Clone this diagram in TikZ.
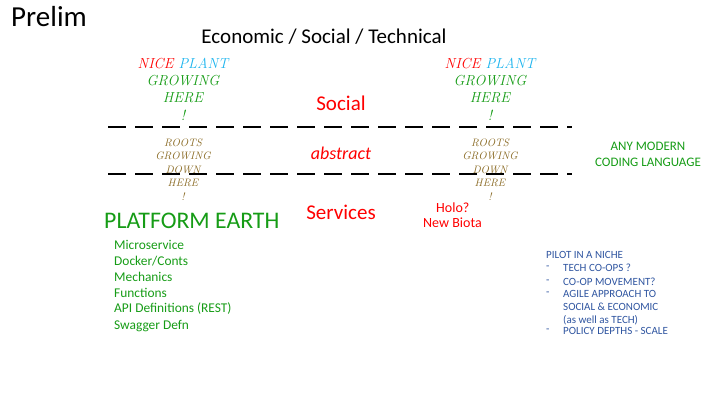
\documentclass[tikz,border=0pt]{standalone}
\usepackage{fontspec}
\setsansfont{Carlito}
\usetikzlibrary{positioning}
\definecolor{tgreen}{HTML}{169C16}
\definecolor{tred}{HTML}{FF0000}
\definecolor{tcyan}{HTML}{1CB4EE}
\definecolor{tbrown}{HTML}{8C6D28}
\definecolor{tblue}{HTML}{2F55A0}
\begin{document}
\begin{tikzpicture}[x=1pt,y=-1pt,
  every node/.style={inner sep=0pt,font=\sffamily},
  scr/.style={font=\rmfamily\itshape\fontsize{14.5}{16}\selectfont},
  root/.style={font=\rmfamily\itshape\fontsize{10.8}{12}\selectfont,text=tbrown},
  lay/.style={text=tred,font=\sffamily\fontsize{21}{24}\selectfont},
  item/.style={anchor=west,text=tgreen,font=\sffamily\fontsize{13.4}{16}\selectfont},
  pil/.style={anchor=west,text=tblue,font=\sffamily\fontsize{11}{13}\selectfont},
  dline/.style={line width=2pt,dash pattern=on 18pt off 9pt}]
\useasboundingbox (0,0) rectangle (720,405);
\node[anchor=west,font=\sffamily\fontsize{29}{33}\selectfont] (prelim) at (11,17) {Prelim};
\node[font=\sffamily\fontsize{21}{25}\selectfont] (title) at (324,37) {Economic / Social / Technical};
% plants
\foreach \n/\x in {l/183,r/490}{
  \node[scr] (nice\n) at (\x,63) {\textcolor{tred}{NICE} \textcolor{tcyan}{PLANT}};
  \node[scr,text=tgreen] (grow\n) at (\x,81) {GROWING};
  \node[scr,text=tgreen] (here\n) at (\x,98) {HERE};
  \node[scr,text=tgreen] (ex\n) at (\x,115) {!};
  \node[root] (roots\n) at (\x,143) {ROOTS};
  \node[root] (rgrow\n) at (\x,156) {GROWING};
  \node[root] (down\n) at (\x,169.5) {DOWN};
  \node[root] (rhere\n) at (\x,183) {HERE};
  \node[root] (rex\n) at (\x,197) {!};
}
% lines
\coordinate (l1a) at (108,127); \coordinate (l1b) at (572,127);
\coordinate (l2a) at (108,174); \coordinate (l2b) at (572,174);
\draw[dline] (l1a) -- (l1b);
\draw[dline] (l2a) -- (l2b);
\node[lay] (social) at (341,103) {Social};
\node[lay,font=\sffamily\itshape\fontsize{18}{21}\selectfont] (abstract) at (341,153) {abstract};
\node[lay] (services) at (341,212) {Services};
\node[anchor=west,text=tred,font=\sffamily\fontsize{14}{16}\selectfont] (holo) at (436,208) {Holo?};
\node[anchor=west,text=tred,font=\sffamily\fontsize{14}{16}\selectfont] (biota) at (423,223) {New Biota};
\node[anchor=west,text=tgreen,font=\sffamily\fontsize{23.8}{27}\selectfont] (pe) at (104,221) {PLATFORM EARTH};
\node[item] (i1) at (114,245) {Microservice};
\node[item] (i2) at (114,261) {Docker/Conts};
\node[item] (i3) at (114,277) {Mechanics};
\node[item] (i4) at (114,293) {Functions};
\node[item] (i5) at (114,309) {API Definitions (REST)};
\node[item] (i6) at (114,326) {Swagger Defn};
\node[text=tgreen,font=\sffamily\fontsize{13}{15}\selectfont] (any) at (648,146) {ANY MODERN};
\node[text=tgreen,font=\sffamily\fontsize{13}{15}\selectfont] (cod) at (648,162) {CODING LANGUAGE};
\node[pil] (pilot) at (546,255) {PILOT IN A NICHE};
\foreach \t/\y/\d in {TECH CO-OPS ?/268/1,CO-OP MOVEMENT?/282/1,AGILE APPROACH TO/294/1,SOCIAL \& ECONOMIC/307/0,(as well as TECH)/320/0,POLICY DEPTHS - SCALE/331/1}{
  \node[pil] (p\y) at (563,\y) {\t};
  \ifnum\d=1 \node[pil] (d\y) at (546,\y) {-};\fi
}
\end{tikzpicture}
\end{document}
